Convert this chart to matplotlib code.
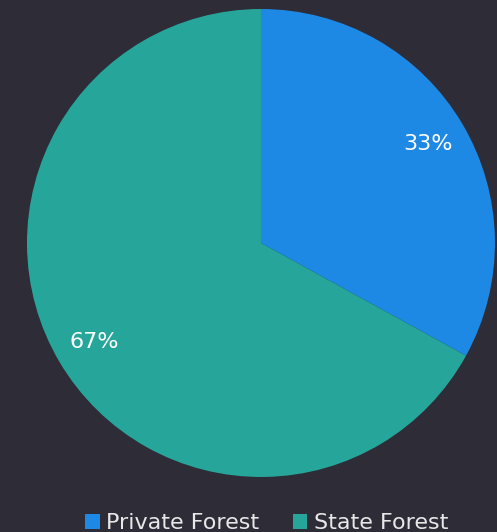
import matplotlib
matplotlib.use("Agg")
import matplotlib.pyplot as plt
from matplotlib.patches import Patch

# Forest ownership share
labels = ["Private Forest", "State Forest"]
shares = [33, 67]
colors = ["#1e88e5", "#26a69a"]

bg = "#2d2c37"

fig = plt.figure(figsize=(4.97, 5.32), dpi=100, facecolor=bg)
ax = fig.add_axes([0.0543, 0.1034, 0.9416, 0.8797])
ax.set_facecolor(bg)

wedges, texts, autotexts = ax.pie(
    shares, colors=colors, startangle=90, counterclock=False,
    autopct='%d%%', pctdistance=0.83, radius=1.0,
    wedgeprops=dict(linewidth=0),
    textprops=dict(color='white', fontsize=16),
)
ax.set_xlim(-1, 1)
ax.set_ylim(-1, 1)
ax.set_aspect('equal')

handles = [Patch(facecolor=c, edgecolor='none') for c in colors]
fig.legend(handles, labels, loc='center', bbox_to_anchor=(0.537, 0.016),
           ncol=2, frameon=False, fontsize=16, labelcolor='#e8e8e8',
           handlelength=0.65, handleheight=0.65, handletextpad=0.3,
           columnspacing=1.5)

fig.savefig("out.png", dpi=100, facecolor=bg)
